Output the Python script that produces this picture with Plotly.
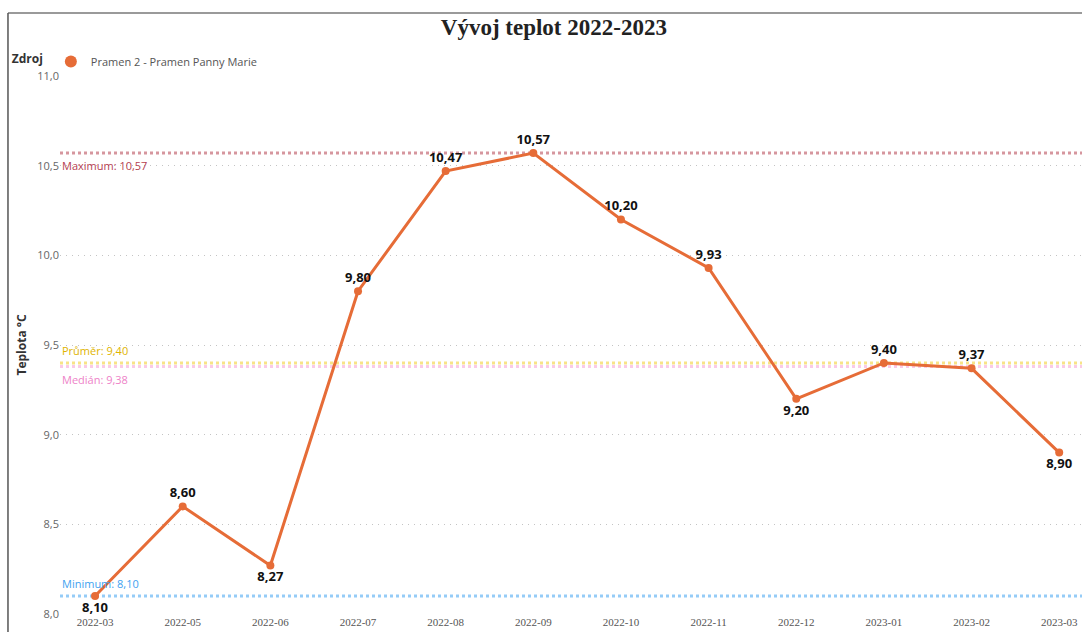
import plotly.graph_objects as go

months = ["2022-03", "2022-05", "2022-06", "2022-07", "2022-08", "2022-09",
          "2022-10", "2022-11", "2022-12", "2023-01", "2023-02", "2023-03"]
teplota = [8.10, 8.60, 8.27, 9.80, 10.47, 10.57, 10.20, 9.93, 9.20, 9.40, 9.37, 8.90]
label_pos = ["bottom center", "top center", "bottom center", "top center", "top center",
             "top center", "top center", "top center", "bottom center", "top center",
             "top center", "bottom center"]

ref_names = ["Maximum", "Průměr", "Medián", "Minimum"]
ref_values = [10.57, 9.40, 9.38, 8.10]
ref_colors = ["#B5404F", "#E0B400", "#EE82C8", "#3EA2F0"]
ref_line_colors = ["rgba(181,64,79,0.55)", "rgba(242,200,15,0.5)",
                   "rgba(245,150,210,0.5)", "rgba(62,162,240,0.55)"]
ref_label_side = [-1, 1, -1, 1]  # -1 below the line, 1 above

y_ticks = [8.0, 8.5, 9.0, 9.5, 10.0, 10.5, 11.0]

ORANGE = "#E66C37"
SANS = "Segoe UI, Open Sans, Noto Sans, sans-serif"
SERIF = "Times New Roman, Liberation Serif, serif"

fig = go.Figure()

fig.add_trace(go.Scatter(
    x=months, y=teplota, mode="lines+markers+text",
    line=dict(color=ORANGE, width=3),
    marker=dict(color=ORANGE, size=8),
    text=[f"{v:.2f}".replace(".", ",") for v in teplota],
    textposition=label_pos,
    textfont=dict(family=SANS, size=13, color="#111111", weight="bold"),
    showlegend=False, cliponaxis=False,
    name="Pramen 2 - Pramen Panny Marie",
))
# legend entry (marker only)
fig.add_trace(go.Scatter(
    x=[months[0]], y=[None], mode="markers",
    marker=dict(color=ORANGE, size=10),
    name="Pramen 2 - Pramen Panny Marie", showlegend=True,
))

for name, val, col, lcol, side in zip(ref_names, ref_values, ref_colors, ref_line_colors, ref_label_side):
    fig.add_shape(type="line", xref="paper", x0=0, x1=1, yref="y", y0=val, y1=val,
                  line=dict(color=lcol, width=3, dash="dot"), layer="below")
    fig.add_annotation(xref="paper", x=0, yref="y", y=val, xanchor="left",
                       yanchor="bottom" if side > 0 else "top",
                       yshift=3 * side, showarrow=False,
                       text=f"{name}: {val:.2f}".replace(".", ","),
                       font=dict(family=SANS, size=11, color=col))

# frame lines
fig.add_shape(type="line", xref="paper", yref="paper", x0=-0.0509, x1=1.0, y0=1.117, y1=1.117,
              line=dict(color="#9a9a9a", width=2))
fig.add_shape(type="line", xref="paper", yref="paper", x0=-0.0509, x1=-0.0509, y0=1.117, y1=-0.05,
              line=dict(color="#555555", width=1.5))

fig.update_layout(
    width=1086, height=632,
    margin=dict(l=60, r=4, t=76, b=18, autoexpand=False),
    paper_bgcolor="white", plot_bgcolor="white",
    separators=", ",
    title=dict(text="<b>Vývoj teplot 2022-2023</b>", x=0.51, xanchor="center",
               y=1 - 27 / 632, yanchor="middle",
               font=dict(family=SERIF, size=23, color="#222222")),
    legend=dict(orientation="h", xref="container", yref="container",
                x=0.009, y=1 - 47 / 632, xanchor="left", yanchor="top",
                title=dict(text="<b>Zdroj</b>", side="left",
                           font=dict(family=SANS, size=12, color="#333333")),
                font=dict(family=SANS, size=11, color="#555555"),
                itemsizing="constant", itemwidth=30, bgcolor="rgba(0,0,0,0)"),
    xaxis=dict(type="category", range=[-0.4, 11.26], showgrid=False, showline=False,
               zeroline=False, ticks="",
               tickfont=dict(family=SERIF, size=11, color="#555555")),
    yaxis=dict(range=[8.0, 11.0], tickvals=y_ticks, tickformat=".1f",
               showgrid=True, gridcolor="#c4c4c4", griddash="1px,5px", gridwidth=1,
               zeroline=False, showline=False, ticks="",
               tickfont=dict(family=SANS, size=11, color="#666666"),
               title=dict(text="<b>Teplota °C</b>", standoff=8,
                          font=dict(family=SANS, size=12, color="#333333"))),
)

fig.write_html("out.html", config={"displayModeBar": False},
               post_script="document.body.style.margin='0';document.body.style.overflow='hidden';")
